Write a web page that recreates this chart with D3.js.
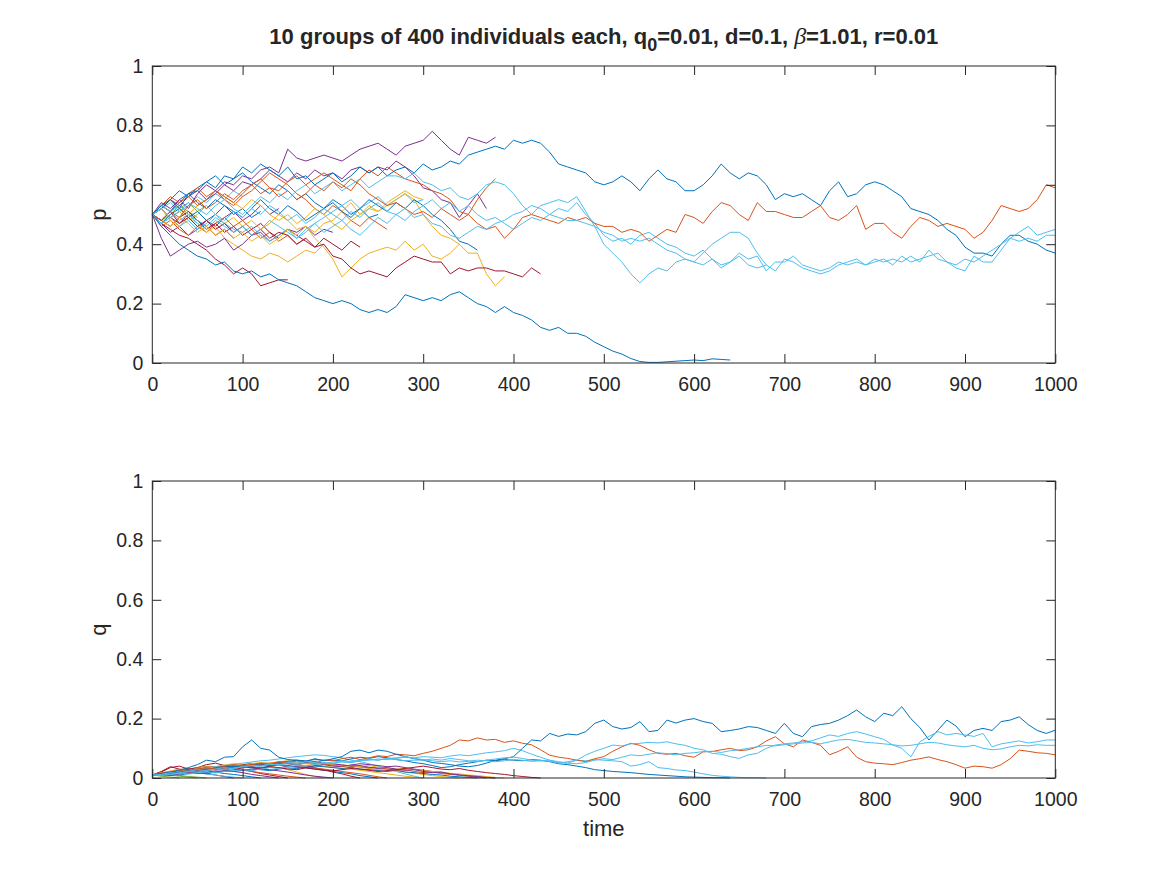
<!DOCTYPE html>
<html>
<head>
<meta charset="utf-8">
<script src="https://cdn.jsdelivr.net/npm/d3@7"></script>
<style>
    body { margin: 0; background: #fff; }
    svg text { font-family: "Liberation Sans", Arial, Helvetica, sans-serif; fill: #262626; }
</style>
</head>
<body>
<div id="chart"></div>
<script>
"use strict";

// sampling step of every series (time units)
const tStep = 10;
const xTicks = [0, 100, 200, 300, 400, 500, 600, 700, 800, 900, 1000];
const yTicks = [0, 0.2, 0.4, 0.6, 0.8, 1];
const colorOrder = ["#0072BD", "#D95319", "#EDB120", "#7E2F8E", "#77AC30", "#4DBEEE", "#A2142F"];

// --- long runs (one value every 10 time units) ---
const pA = [
    0.50,0.53,0.55,0.52,0.57,0.58,0.61,0.59,0.63,0.62,
    0.66,0.64,0.67,0.65,0.63,0.66,0.62,0.63,0.60,0.62,
    0.64,0.61,0.63,0.66,0.64,0.66,0.63,0.65,0.66,0.64,
    0.67,0.65,0.66,0.68,0.67,0.70,0.71,0.72,0.73,0.72,
    0.75,0.74,0.75,0.74,0.71,0.67,0.66,0.65,0.64,0.61,
    0.60,0.61,0.63,0.61,0.58,0.62,0.65,0.62,0.61,0.58,
    0.58,0.60,0.63,0.67,0.64,0.62,0.64,0.63,0.60,0.55,
    0.57,0.56,0.57,0.55,0.53,0.58,0.61,0.56,0.57,0.60,
    0.61,0.60,0.58,0.56,0.52,0.51,0.50,0.48,0.45,0.43,
    0.39,0.37,0.37,0.36,0.40,0.43,0.43,0.41,0.40,0.38,
    0.37];
const qA = [
    0.010,0.015,0.020,0.027,0.035,0.045,0.060,0.055,0.070,0.072,
    0.105,0.128,0.100,0.094,0.070,0.062,0.060,0.055,0.065,0.058,
    0.065,0.072,0.090,0.094,0.085,0.094,0.090,0.080,0.072,0.065,
    0.060,0.052,0.049,0.045,0.040,0.038,0.042,0.050,0.060,0.065,
    0.072,0.100,0.128,0.125,0.150,0.140,0.148,0.145,0.156,0.184,
    0.195,0.173,0.165,0.170,0.190,0.156,0.160,0.195,0.185,0.195,
    0.200,0.190,0.184,0.156,0.160,0.165,0.173,0.170,0.160,0.150,
    0.184,0.150,0.139,0.173,0.180,0.184,0.195,0.210,0.229,0.206,
    0.190,0.218,0.210,0.240,0.200,0.170,0.128,0.161,0.195,0.175,
    0.139,0.160,0.167,0.160,0.190,0.195,0.206,0.180,0.160,0.150,
    0.161];

const pB = [
    0.50,0.48,0.51,0.49,0.53,0.55,0.52,0.54,0.57,0.55,
    0.58,0.60,0.57,0.59,0.56,0.58,0.55,0.57,0.60,0.58,
    0.61,0.59,0.62,0.60,0.57,0.55,0.53,0.54,0.52,0.50,
    0.51,0.49,0.52,0.50,0.48,0.50,0.47,0.45,0.46,0.42,
    0.45,0.49,0.50,0.49,0.48,0.47,0.49,0.48,0.49,0.47,
    0.46,0.46,0.44,0.45,0.44,0.41,0.43,0.45,0.44,0.50,
    0.49,0.47,0.51,0.54,0.53,0.50,0.48,0.54,0.51,0.51,
    0.50,0.49,0.49,0.51,0.53,0.49,0.48,0.50,0.53,0.45,
    0.47,0.47,0.44,0.42,0.46,0.49,0.48,0.46,0.47,0.46,
    0.45,0.42,0.44,0.48,0.53,0.52,0.51,0.52,0.55,0.60,
    0.59];
const qB = [
    0.010,0.015,0.020,0.025,0.022,0.030,0.035,0.030,0.040,0.045,
    0.040,0.045,0.050,0.048,0.055,0.050,0.058,0.055,0.050,0.060,
    0.058,0.065,0.070,0.062,0.068,0.075,0.072,0.080,0.078,0.075,
    0.083,0.090,0.100,0.110,0.128,0.125,0.135,0.128,0.130,0.120,
    0.125,0.117,0.112,0.095,0.077,0.070,0.066,0.060,0.055,0.065,
    0.072,0.090,0.105,0.117,0.110,0.095,0.083,0.080,0.083,0.075,
    0.070,0.088,0.089,0.095,0.100,0.092,0.095,0.105,0.125,0.139,
    0.115,0.105,0.128,0.120,0.110,0.078,0.090,0.105,0.070,0.055,
    0.050,0.048,0.045,0.052,0.060,0.065,0.071,0.062,0.055,0.045,
    0.033,0.040,0.038,0.033,0.045,0.065,0.094,0.090,0.085,0.083,
    0.078];

const pLB1 = [
    0.50,0.52,0.49,0.51,0.54,0.52,0.50,0.53,0.55,0.52,
    0.50,0.53,0.56,0.54,0.57,0.55,0.58,0.60,0.57,0.59,
    0.61,0.58,0.60,0.62,0.59,0.61,0.63,0.63,0.62,0.64,
    0.61,0.60,0.58,0.59,0.56,0.55,0.57,0.60,0.61,0.60,
    0.57,0.53,0.50,0.53,0.54,0.55,0.54,0.56,0.51,0.46,
    0.40,0.37,0.34,0.30,0.27,0.30,0.32,0.31,0.34,0.35,
    0.34,0.37,0.40,0.42,0.44,0.44,0.42,0.37,0.33,0.31,
    0.35,0.34,0.32,0.31,0.30,0.31,0.33,0.34,0.35,0.33,
    0.34,0.35,0.33,0.36,0.34,0.35,0.36,0.37,0.34,0.32,
    0.31,0.36,0.34,0.34,0.38,0.42,0.44,0.46,0.43,0.44,
    0.45];
const qLB1 = [
    0.010,0.012,0.018,0.015,0.022,0.028,0.025,0.030,0.035,0.032,
    0.038,0.042,0.040,0.048,0.045,0.052,0.050,0.055,0.052,0.048,
    0.054,0.058,0.055,0.060,0.064,0.060,0.066,0.068,0.072,0.066,
    0.062,0.058,0.055,0.058,0.054,0.056,0.060,0.058,0.055,0.058,
    0.062,0.060,0.056,0.058,0.060,0.055,0.050,0.060,0.077,0.090,
    0.100,0.111,0.108,0.115,0.117,0.120,0.118,0.122,0.115,0.110,
    0.100,0.095,0.083,0.080,0.072,0.066,0.078,0.083,0.100,0.111,
    0.115,0.118,0.122,0.125,0.135,0.145,0.140,0.150,0.156,0.148,
    0.139,0.130,0.111,0.100,0.071,0.122,0.140,0.156,0.145,0.150,
    0.145,0.140,0.150,0.105,0.115,0.120,0.125,0.118,0.122,0.128,
    0.128];

const pLB2 = [
    0.50,0.47,0.49,0.46,0.48,0.45,0.47,0.50,0.48,0.51,
    0.49,0.52,0.50,0.53,0.51,0.48,0.50,0.47,0.49,0.52,
    0.50,0.48,0.51,0.49,0.52,0.54,0.51,0.50,0.52,0.49,
    0.50,0.47,0.46,0.43,0.42,0.44,0.46,0.45,0.47,0.48,
    0.50,0.51,0.53,0.52,0.50,0.49,0.48,0.48,0.47,0.46,
    0.44,0.43,0.41,0.42,0.41,0.42,0.40,0.38,0.37,0.35,
    0.34,0.33,0.35,0.32,0.34,0.37,0.35,0.36,0.31,0.34,
    0.34,0.36,0.33,0.32,0.31,0.32,0.34,0.33,0.34,0.33,
    0.35,0.34,0.35,0.34,0.36,0.34,0.38,0.35,0.34,0.33,
    0.35,0.34,0.36,0.38,0.40,0.42,0.41,0.42,0.41,0.43,
    0.43];
const qLB2 = [
    0.010,0.008,0.012,0.015,0.013,0.018,0.020,0.017,0.022,0.025,
    0.028,0.025,0.030,0.035,0.032,0.038,0.042,0.040,0.045,0.050,
    0.048,0.055,0.052,0.058,0.062,0.060,0.066,0.062,0.058,0.060,
    0.060,0.064,0.060,0.066,0.062,0.058,0.055,0.060,0.064,0.068,
    0.070,0.066,0.060,0.058,0.056,0.052,0.050,0.048,0.052,0.060,
    0.065,0.062,0.070,0.078,0.075,0.080,0.085,0.082,0.078,0.083,
    0.085,0.089,0.090,0.086,0.092,0.095,0.100,0.105,0.110,0.108,
    0.112,0.115,0.118,0.120,0.115,0.122,0.128,0.130,0.125,0.120,
    0.118,0.115,0.112,0.108,0.110,0.115,0.120,0.118,0.112,0.108,
    0.105,0.110,0.100,0.095,0.098,0.105,0.110,0.108,0.112,0.110,
    0.110];

const pLB3 = [
    0.50,0.53,0.51,0.48,0.50,0.47,0.45,0.48,0.46,0.44,
    0.46,0.43,0.45,0.48,0.46,0.44,0.42,0.45,0.47,0.44,
    0.46,0.48,0.45,0.43,0.46,0.49,0.47,0.50,0.48,0.51,
    0.53,0.55,0.52,0.54,0.51,0.53,0.50,0.48,0.49,0.47,
    0.45,0.47,0.49,0.48,0.50,0.52,0.51,0.54,0.50,0.47,
    0.43,0.41,0.42,0.40,0.43,0.44,0.42,0.40,0.39,0.37,
    0.36,0.38,0.35,0.33,0.34,0.36,0.33,0.32,0.33];
const qLB3 = [
    0.010,0.014,0.012,0.018,0.022,0.020,0.026,0.030,0.028,0.034,
    0.038,0.042,0.040,0.046,0.044,0.048,0.046,0.050,0.048,0.052,
    0.050,0.054,0.052,0.058,0.060,0.064,0.062,0.066,0.070,0.068,
    0.072,0.070,0.068,0.074,0.078,0.075,0.080,0.085,0.088,0.092,
    0.100,0.092,0.080,0.070,0.060,0.050,0.055,0.060,0.058,0.062,
    0.060,0.058,0.055,0.040,0.045,0.055,0.035,0.032,0.027,0.025,
    0.020,0.014,0.009,0.006,0.004,0.002,0.001,0.001,0.000];

const pD = [
    0.50,0.46,0.43,0.40,0.38,0.36,0.35,0.33,0.34,0.31,
    0.30,0.31,0.29,0.30,0.28,0.27,0.26,0.24,0.22,0.21,
    0.20,0.21,0.20,0.18,0.17,0.18,0.17,0.19,0.23,0.22,
    0.21,0.22,0.21,0.23,0.24,0.22,0.20,0.19,0.17,0.19,
    0.17,0.16,0.145,0.12,0.11,0.12,0.10,0.10,0.09,0.07,
    0.055,0.04,0.03,0.015,0.005,0.002,0.002,0.004,0.006,0.008,
    0.010,0.008,0.014,0.012,0.010];
const qD = [
    0.010,0.012,0.016,0.020,0.025,0.030,0.028,0.035,0.040,0.038,
    0.040,0.044,0.048,0.046,0.052,0.056,0.060,0.058,0.062,0.060,
    0.060,0.058,0.064,0.070,0.066,0.072,0.068,0.062,0.058,0.052,
    0.048,0.042,0.035,0.038,0.045,0.050,0.055,0.060,0.058,0.062,
    0.060,0.058,0.062,0.060,0.055,0.048,0.045,0.040,0.035,0.028,
    0.025,0.022,0.020,0.018,0.015,0.012,0.010,0.008,0.006,0.004,
    0.003,0.002,0.001,0.001,0.000];

// --- medium runs ---
const pP1 = [
    0.50,0.54,0.52,0.55,0.52,0.57,0.60,0.58,0.61,0.60,
    0.63,0.62,0.65,0.66,0.64,0.72,0.69,0.68,0.69,0.70,
    0.69,0.68,0.70,0.72,0.73,0.74,0.72,0.70,0.73,0.74,
    0.75,0.78,0.75,0.72,0.70,0.76,0.75,0.74,0.76];
const qP1 = [
    0.010,0.014,0.018,0.015,0.022,0.026,0.030,0.028,0.034,0.038,
    0.035,0.040,0.045,0.042,0.048,0.050,0.046,0.052,0.055,0.050,
    0.048,0.044,0.040,0.042,0.036,0.032,0.035,0.030,0.026,0.028,
    0.022,0.018,0.020,0.014,0.010,0.008,0.005,0.002,0.000];

const pP2 = [
    0.50,0.52,0.55,0.53,0.56,0.58,0.55,0.57,0.60,0.58,
    0.61,0.60,0.62,0.65,0.63,0.61,0.64,0.62,0.65,0.63,
    0.64,0.62,0.65,0.66,0.64,0.66,0.65,0.68,0.66,0.63,
    0.59,0.58,0.55,0.54,0.49,0.53,0.57,0.52];
const qP2 = [
    0.010,0.012,0.008,0.014,0.018,0.015,0.020,0.024,0.022,0.028,
    0.030,0.026,0.032,0.036,0.034,0.040,0.038,0.035,0.042,0.045,
    0.040,0.038,0.044,0.048,0.045,0.042,0.038,0.040,0.035,0.030,
    0.026,0.022,0.018,0.014,0.010,0.006,0.003,0.000];

const pR1 = [
    0.50,0.48,0.51,0.47,0.49,0.46,0.48,0.45,0.47,0.44,
    0.46,0.43,0.45,0.42,0.44,0.43,0.40,0.42,0.39,0.40,
    0.36,0.35,0.32,0.30,0.31,0.30,0.29,0.32,0.34,0.36,
    0.35,0.34,0.34,0.30,0.32,0.31,0.32,0.32,0.31,0.31,
    0.30,0.29,0.32,0.30];
const qR1 = [
    0.010,0.015,0.012,0.018,0.022,0.020,0.025,0.030,0.028,0.034,
    0.040,0.036,0.032,0.038,0.035,0.030,0.028,0.034,0.030,0.026,
    0.024,0.028,0.032,0.030,0.026,0.022,0.025,0.028,0.032,0.036,
    0.040,0.035,0.030,0.028,0.032,0.026,0.022,0.018,0.015,0.012,
    0.008,0.005,0.002,0.000];

const pY1 = [
    0.50,0.52,0.49,0.51,0.48,0.50,0.53,0.50,0.47,0.49,
    0.46,0.48,0.45,0.47,0.50,0.48,0.45,0.46,0.42,0.39,
    0.35,0.29,0.32,0.35,0.37,0.38,0.39,0.38,0.41,0.38,
    0.40,0.36,0.35,0.37,0.40,0.37,0.37,0.30,0.26,0.29];
const qY1 = [
    0.010,0.015,0.022,0.028,0.025,0.032,0.038,0.035,0.042,0.045,
    0.040,0.048,0.052,0.050,0.055,0.058,0.052,0.048,0.045,0.050,
    0.046,0.042,0.040,0.038,0.042,0.036,0.034,0.030,0.032,0.028,
    0.025,0.022,0.020,0.016,0.014,0.010,0.008,0.005,0.002,0.000];

const pY3 = [
    0.50,0.48,0.46,0.49,0.47,0.44,0.46,0.43,0.45,0.42,
    0.44,0.41,0.43,0.40,0.42,0.45,0.43,0.46,0.44,0.47,
    0.48,0.51,0.54,0.50,0.52,0.51,0.53,0.55,0.57,0.55,
    0.50,0.46,0.43,0.42,0.40];
const qY3 = [
    0.010,0.012,0.016,0.022,0.020,0.026,0.030,0.034,0.032,0.038,
    0.042,0.040,0.046,0.050,0.048,0.052,0.056,0.053,0.050,0.046,
    0.042,0.045,0.040,0.036,0.032,0.028,0.030,0.025,0.020,0.016,
    0.012,0.008,0.005,0.002,0.000];

const pO2 = [
    0.50,0.53,0.51,0.54,0.56,0.53,0.55,0.58,0.56,0.54,
    0.57,0.60,0.62,0.59,0.58,0.61,0.63,0.60,0.62,0.64,
    0.62,0.60,0.58,0.62,0.65,0.63,0.66,0.64,0.62,0.61,
    0.60,0.58,0.57,0.55,0.51,0.50,0.55,0.59,0.62];
const qO2 = [
    0.010,0.014,0.018,0.016,0.022,0.028,0.026,0.032,0.036,0.034,
    0.040,0.044,0.042,0.048,0.052,0.050,0.046,0.050,0.054,0.048,
    0.044,0.040,0.042,0.038,0.034,0.036,0.030,0.026,0.028,0.022,
    0.018,0.020,0.015,0.012,0.010,0.007,0.004,0.002,0.000];

const pD2 = [
    0.50,0.47,0.50,0.52,0.49,0.51,0.48,0.50,0.53,0.51,
    0.49,0.52,0.55,0.52,0.50,0.53,0.51,0.48,0.50,0.52,
    0.54,0.51,0.49,0.52,0.55,0.53,0.51,0.54,0.52,0.55,
    0.53,0.50,0.48,0.45,0.41,0.40,0.38];
const qD2 = [
    0.010,0.008,0.012,0.010,0.015,0.018,0.014,0.020,0.024,0.022,
    0.026,0.030,0.028,0.025,0.030,0.034,0.032,0.036,0.040,0.038,
    0.035,0.032,0.036,0.030,0.028,0.025,0.022,0.026,0.020,0.018,
    0.015,0.012,0.010,0.006,0.004,0.002,0.000];

// --- short runs ---
const pR2 = [0.50,0.47,0.45,0.43,0.42,0.40,0.38,0.35,0.33,0.30,0.32,0.30,0.26,0.27,0.28,0.28];
const qR2 = [0.010,0.020,0.035,0.040,0.030,0.035,0.045,0.050,0.042,0.035,0.030,0.022,0.015,0.010,0.005,0.000];
const pP3 = [0.50,0.42,0.36,0.38,0.40,0.41,0.39,0.40,0.42,0.38,0.40,0.43,0.44,0.41,0.43,0.45,0.44,0.46,0.43,0.45,0.44];
const qP3 = [0.010,0.016,0.020,0.026,0.030,0.034,0.038,0.036,0.040,0.042,0.038,0.034,0.030,0.028,0.024,0.020,0.015,0.010,0.006,0.003,0.000];
const pG1 = [0.50,0.53,0.55,0.52,0.54,0.51,0.53];
const qG1 = [0.010,0.008,0.012,0.009,0.005,0.003,0.000];
const pG2 = [0.50,0.47,0.49,0.51];
const qG2 = [0.010,0.006,0.003,0.000];
const pS1 = [0.50,0.53,0.51,0.55,0.57,0.54,0.52,0.55,0.53,0.50,0.52,0.49,0.51];
const qS1 = [0.010,0.014,0.020,0.018,0.024,0.022,0.018,0.020,0.015,0.012,0.008,0.004,0.000];
const pS2 = [0.50,0.46,0.48,0.45,0.43,0.46,0.44,0.47,0.49,0.46,0.48,0.45,0.42,0.44,0.41,0.43,0.40,0.42];
const qS2 = [0.010,0.015,0.012,0.018,0.022,0.026,0.024,0.030,0.028,0.032,0.026,0.022,0.018,0.014,0.010,0.006,0.003,0.000];
const pS3 = [0.50,0.52,0.48,0.46,0.49,0.47,0.44,0.46,0.42,0.40,0.38,0.36,0.35,0.37,0.36,0.34,0.36,0.38,0.37,0.40];
const qS3 = [0.010,0.018,0.024,0.030,0.028,0.035,0.040,0.038,0.044,0.048,0.045,0.050,0.046,0.040,0.034,0.028,0.020,0.012,0.005,0.000];
const pS4 = [
    0.50,0.48,0.51,0.53,0.50,0.48,0.46,0.49,0.47,0.45,
    0.44,0.46,0.43,0.41,0.43,0.45,0.42,0.44,0.47,0.49,
    0.51,0.53,0.55,0.52,0.54,0.56,0.53,0.55,0.57,0.54,0.55];
const qS4 = [
    0.010,0.014,0.018,0.022,0.026,0.030,0.034,0.038,0.042,0.046,
    0.050,0.054,0.058,0.060,0.064,0.068,0.072,0.075,0.078,0.076,
    0.072,0.068,0.060,0.055,0.048,0.040,0.030,0.022,0.014,0.006,0.000];
const pS5 = [0.50,0.48,0.46,0.49,0.51,0.48,0.46,0.43,0.45,0.42];
const qS5 = [0.010,0.022,0.038,0.030,0.024,0.020,0.015,0.010,0.005,0.000];
const pS6 = [
    0.50,0.52,0.55,0.58,0.56,0.59,0.61,0.63,0.60,0.62,
    0.64,0.61,0.59,0.57,0.60,0.58,0.55,0.57,0.54,0.52,
    0.55,0.53,0.50,0.52,0.49,0.50];
const qS6 = [
    0.010,0.012,0.016,0.020,0.024,0.022,0.028,0.032,0.030,0.036,
    0.040,0.038,0.035,0.040,0.044,0.042,0.038,0.034,0.030,0.026,
    0.022,0.018,0.014,0.008,0.004,0.000];
const pS7 = [
    0.50,0.53,0.56,0.54,0.57,0.59,0.56,0.58,0.55,0.53,
    0.56,0.58,0.61,0.64,0.62,0.60,0.57,0.55,0.52,0.50,
    0.53,0.51,0.48,0.46,0.49,0.47,0.45];
const qS7 = [
    0.010,0.016,0.022,0.020,0.026,0.032,0.036,0.034,0.040,0.044,
    0.042,0.046,0.050,0.048,0.044,0.040,0.036,0.038,0.034,0.030,
    0.026,0.022,0.018,0.014,0.009,0.004,0.000];
const pS8 = [0.50,0.47,0.44,0.46,0.43,0.45,0.48,0.46,0.49,0.51,0.48,0.50,0.53,0.50,0.52];
const qS8 = [0.010,0.014,0.020,0.026,0.030,0.028,0.034,0.030,0.026,0.022,0.018,0.012,0.008,0.004,0.000];
const pS9 = [
    0.50,0.53,0.55,0.52,0.50,0.53,0.55,0.58,0.56,0.54,
    0.52,0.55,0.53,0.50,0.48,0.50,0.47,0.49,0.52,0.50,
    0.47,0.45,0.48,0.50,0.53,0.51,0.54,0.56,0.58,0.56,0.55];
const qS9 = [
    0.010,0.012,0.016,0.020,0.024,0.028,0.026,0.030,0.034,0.038,
    0.036,0.040,0.044,0.048,0.045,0.050,0.046,0.042,0.045,0.040,
    0.036,0.032,0.030,0.026,0.022,0.018,0.014,0.010,0.006,0.003,0.000];
const pS10 = [0.50,0.52,0.54,0.51,0.53,0.56,0.54,0.57,0.55,0.58,0.56];
const qS10 = [0.010,0.013,0.017,0.015,0.020,0.018,0.014,0.010,0.006,0.003,0.000];
const pS11 = [0.50,0.48,0.50,0.53,0.51,0.49];
const qS11 = [0.010,0.012,0.009,0.006,0.003,0.000];
const pS12 = [
    0.50,0.52,0.49,0.47,0.50,0.48,0.45,0.47,0.44,0.46,
    0.43,0.45,0.47,0.44,0.42,0.45,0.43,0.41,0.39,0.42,
    0.40,0.38,0.41,0.39];
const qS12 = [
    0.010,0.014,0.018,0.022,0.028,0.032,0.030,0.036,0.040,0.038,
    0.044,0.048,0.046,0.050,0.052,0.048,0.044,0.040,0.034,0.028,
    0.020,0.014,0.006,0.000];

// drawing order (first drawn = underneath)
const runs = [
    {p: pG2, q: qG2, color: colorOrder[4]},
    {p: pS11, q: qS11, color: colorOrder[4]},
    {p: pG1, q: qG1, color: colorOrder[4]},
    {p: pS5, q: qS5, color: colorOrder[6]},
    {p: pS10, q: qS10, color: colorOrder[5]},
    {p: pS1, q: qS1, color: colorOrder[0]},
    {p: pS8, q: qS8, color: colorOrder[3]},
    {p: pR2, q: qR2, color: colorOrder[6]},
    {p: pS2, q: qS2, color: colorOrder[1]},
    {p: pS3, q: qS3, color: colorOrder[2]},
    {p: pP3, q: qP3, color: colorOrder[3]},
    {p: pS12, q: qS12, color: colorOrder[6]},
    {p: pS6, q: qS6, color: colorOrder[0]},
    {p: pS7, q: qS7, color: colorOrder[1]},
    {p: pS4, q: qS4, color: colorOrder[5]},
    {p: pS9, q: qS9, color: colorOrder[2]},
    {p: pY3, q: qY3, color: colorOrder[2]},
    {p: pD2, q: qD2, color: colorOrder[0]},
    {p: pP2, q: qP2, color: colorOrder[3]},
    {p: pO2, q: qO2, color: colorOrder[1]},
    {p: pY1, q: qY1, color: colorOrder[2]},
    {p: pP1, q: qP1, color: colorOrder[3]},
    {p: pR1, q: qR1, color: colorOrder[6]},
    {p: pD, q: qD, color: colorOrder[0]},
    {p: pLB3, q: qLB3, color: colorOrder[5]},
    {p: pB, q: qB, color: colorOrder[1]},
    {p: pA, q: qA, color: colorOrder[0]},
    {p: pLB2, q: qLB2, color: colorOrder[5]},
    {p: pLB1, q: qLB1, color: colorOrder[5]}
];

const width = 1167, height = 875;
const left = 152.3, right = 1055.3;
const panels = [
    {key: "p", label: "p", top: 66, bottom: 363},
    {key: "q", label: "q", top: 481, bottom: 778}
];
const ink = "#262626";

const svg = d3.select("#chart").append("svg")
    .attr("width", width)
    .attr("height", height);
svg.append("rect").attr("width", width).attr("height", height).attr("fill", "#fff");

const x = d3.scaleLinear().domain([0, 1000]).range([left, right]);
const fmtY = d => String(+d.toFixed(1));

panels.forEach(panel => {
    const y = d3.scaleLinear().domain([0, 1]).range([panel.bottom, panel.top]);
    const g = svg.append("g");

    const line = d3.line()
        .x((v, i) => x(i * tStep))
        .y(v => y(v));

    g.selectAll("path.run").data(runs).join("path")
        .attr("class", "run")
        .attr("d", r => line(r[panel.key]))
        .attr("fill", "none")
        .attr("stroke", r => r.color)
        .attr("stroke-width", 1)
        .attr("stroke-linejoin", "round");

    const axes = [
        [d3.axisBottom(x).tickValues(xTicks).tickFormat(d3.format("d")).tickPadding(14), `translate(0,${panel.bottom})`],
        [d3.axisTop(x).tickValues(xTicks).tickFormat(""), `translate(0,${panel.top})`],
        [d3.axisLeft(y).tickValues(yTicks).tickFormat(fmtY).tickPadding(9), `translate(${left},0)`],
        [d3.axisRight(y).tickValues(yTicks).tickFormat(""), `translate(${right},0)`]
    ];
    axes.forEach(([axis, tr]) => {
        const a = g.append("g")
            .attr("transform", tr)
            .attr("color", ink)
            .call(axis.tickSizeInner(-9).tickSizeOuter(0));
        a.select(".domain").remove();
        a.selectAll("text")
            .attr("font-size", "19.5px")
            .attr("font-family", null);
        a.selectAll("line").attr("stroke-width", 1);
    });

    g.append("rect")
        .attr("x", left).attr("y", panel.top)
        .attr("width", right - left).attr("height", panel.bottom - panel.top)
        .attr("fill", "none").attr("stroke", ink).attr("stroke-width", 1);

    g.append("text")
        .attr("transform", `translate(106,${(panel.top + panel.bottom) / 2}) rotate(-90)`)
        .attr("text-anchor", "middle")
        .attr("font-size", "22px")
        .text(panel.label);
});

svg.append("text")
    .attr("x", (left + right) / 2).attr("y", 836)
    .attr("text-anchor", "middle")
    .attr("font-size", "22px")
    .text("time");

const title = svg.append("text")
    .attr("x", (left + right) / 2).attr("y", 44)
    .attr("text-anchor", "middle")
    .attr("font-size", "22px")
    .attr("font-weight", "bold");
title.append("tspan").text("10 groups of 400 individuals each, q");
title.append("tspan").attr("dy", 7).attr("font-size", "18px").text("0");
title.append("tspan").attr("dy", -7).text("=0.01, d=0.1, ");
title.append("tspan")
    .attr("font-family", "'Liberation Serif', 'DejaVu Serif', serif")
    .attr("font-style", "italic")
    .attr("font-weight", "normal")
    .attr("font-size", "24px")
    .text("β");
title.append("tspan").text("=1.01, r=0.01");
</script>
</body>
</html>
